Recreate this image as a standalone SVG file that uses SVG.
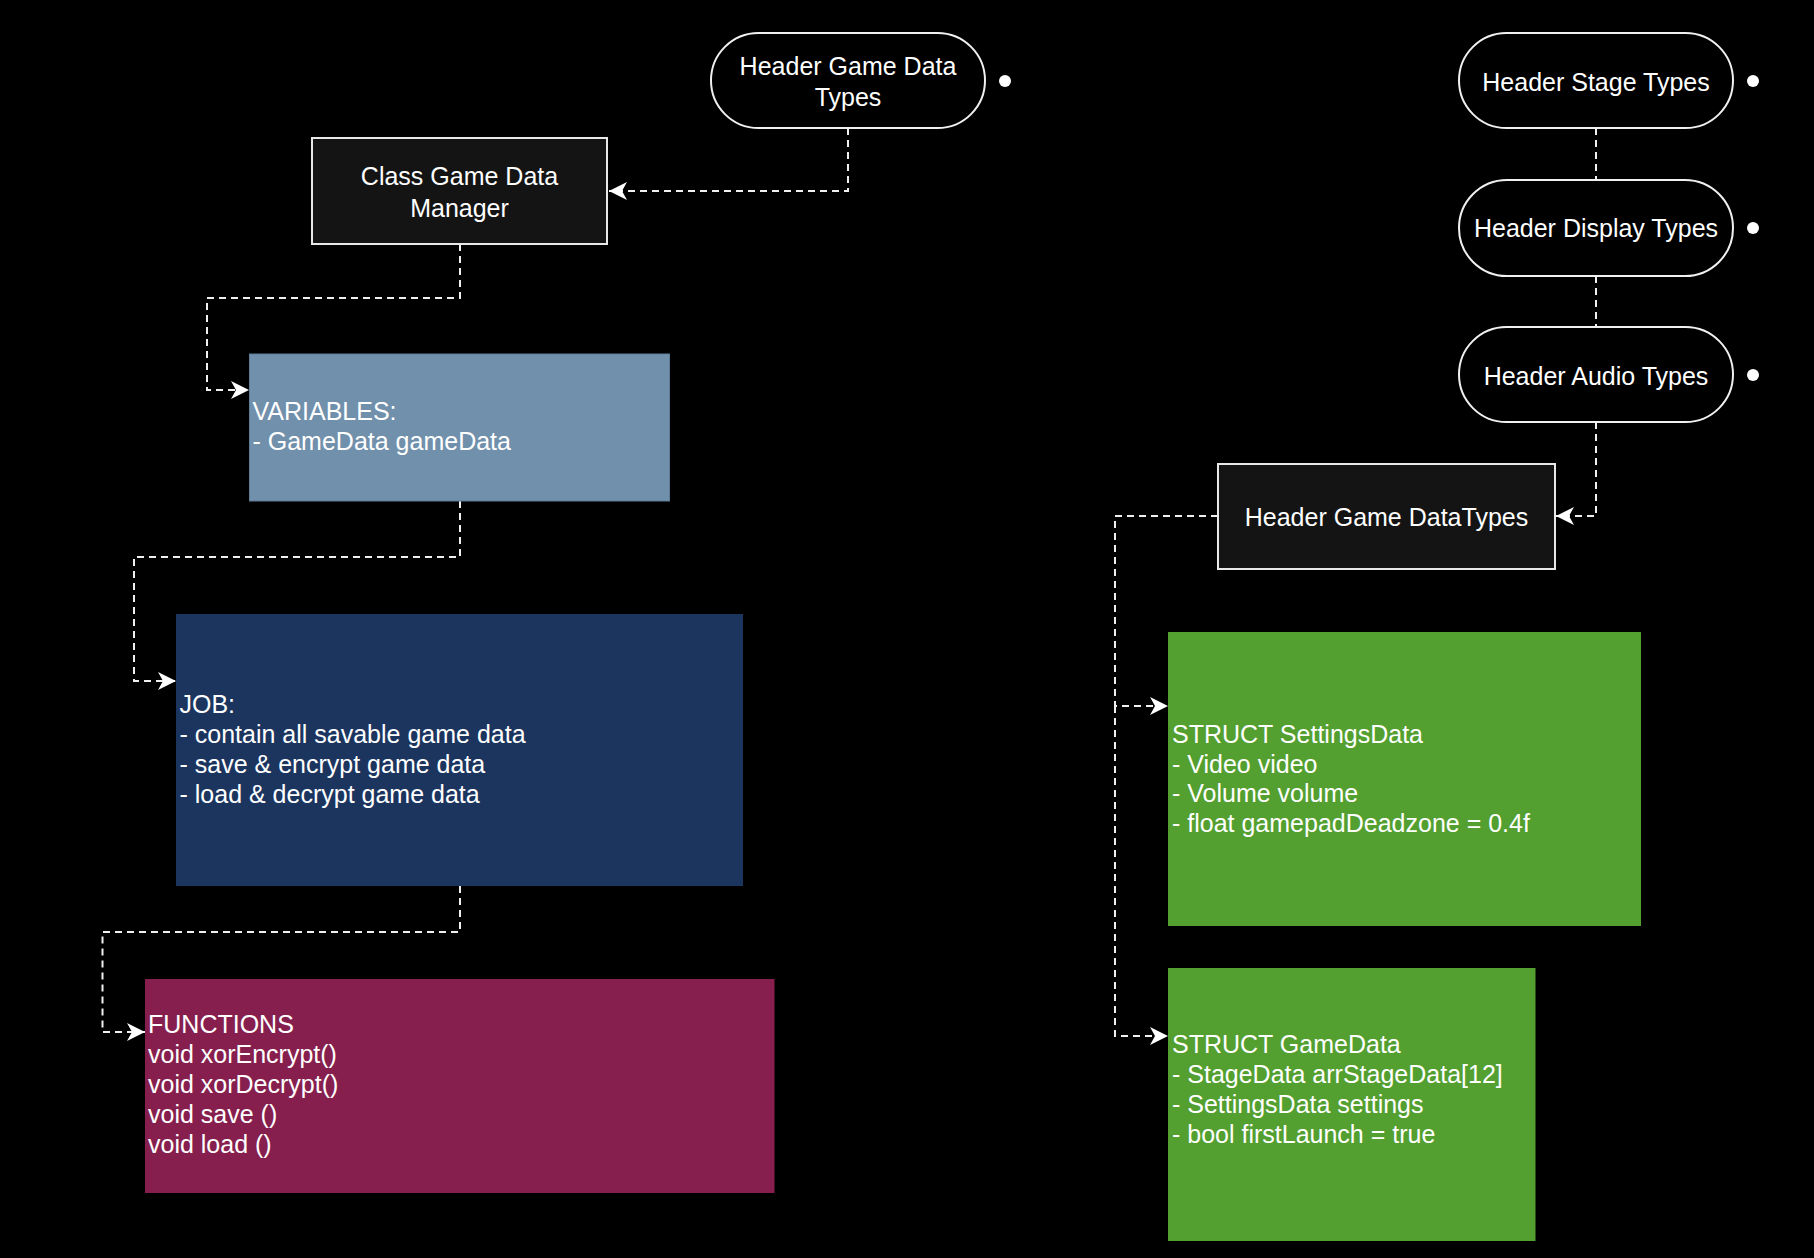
<svg xmlns="http://www.w3.org/2000/svg" width="1814" height="1258" viewBox="0 0 1814 1258">
<style>
text{font-family:"Liberation Sans",Arial,sans-serif;font-size:25px;fill:#ffffff}
.c{text-anchor:middle}
.pill{fill:#000000;stroke:#f0f0f0;stroke-width:2}
.hdr{fill:#141414;stroke:#e8e8e8;stroke-width:2}
.dot{fill:#ffffff}
.edge{fill:none;stroke:#f0f0f0;stroke-width:2;stroke-dasharray:7 5}
</style>
<defs>
<marker id="arr" markerUnits="userSpaceOnUse" markerWidth="20" markerHeight="20" refX="18" refY="9" orient="auto" overflow="visible">
<path d="M18,9 L0,0 L5,9 L0,18 Z" fill="#ffffff"/>
</marker>
</defs>
<rect x="0" y="0" width="1814" height="1258" fill="#000000"/>

<g id="connectors">
<path class="edge" d="M848,128 V191 H609" marker-end="url(#arr)"/>
<path class="edge" d="M460,244 V298 H207 V390 H249" marker-end="url(#arr)"/>
<path class="edge" d="M460,501 V557 H134 V681 H176" marker-end="url(#arr)"/>
<path class="edge" d="M460,886 V932 H102.5 V1032 H145" marker-end="url(#arr)"/>
<path class="edge" d="M1596,128 V180"/>
<path class="edge" d="M1596,276 V327"/>
<path class="edge" d="M1596,422 V516 H1556" marker-end="url(#arr)"/>
<path class="edge" d="M1218,516 H1115 V706 H1168" marker-end="url(#arr)"/>
<path class="edge" d="M1115,706 V1036 H1168" marker-end="url(#arr)"/>
</g>

<g id="pill-game-data-types">
<rect class="pill" x="711" y="33" width="274" height="95" rx="47.5" ry="47.5"/>
<text class="c" x="848" y="74.5">Header Game Data</text>
<text class="c" x="848" y="106">Types</text>
<circle class="dot" cx="1005" cy="81" r="6"/>
</g>

<g id="class-game-data-manager">
<rect class="hdr" x="312" y="138" width="295" height="106"/>
<text class="c" x="459.5" y="184.5">Class Game Data</text>
<text class="c" x="459.5" y="216.5">Manager</text>
</g>

<g id="variables">
<rect x="249.5" y="354" width="420" height="147" fill="#7090ab" stroke="#5d7c98" stroke-width="1"/>
<text x="252.5" y="420">VARIABLES:</text>
<text x="252.5" y="450">- GameData gameData</text>
</g>

<g id="job">
<rect x="176" y="614" width="567" height="272" fill="#1b355f"/>
<text x="179.5" y="713">JOB:</text>
<text x="179.5" y="743">- contain all savable game data</text>
<text x="179.5" y="773">- save &amp; encrypt game data</text>
<text x="179.5" y="803">- load &amp; decrypt game data</text>
</g>

<g id="functions">
<rect x="145" y="979" width="629.5" height="214" fill="#861f4e"/>
<text x="148" y="1033">FUNCTIONS</text>
<text x="148" y="1063">void xorEncrypt()</text>
<text x="148" y="1093">void xorDecrypt()</text>
<text x="148" y="1123">void save ()</text>
<text x="148" y="1153">void load ()</text>
</g>

<g id="pill-stage-types">
<rect class="pill" x="1459" y="33" width="274" height="95" rx="47.5" ry="47.5"/>
<text class="c" x="1596" y="91">Header Stage Types</text>
<circle class="dot" cx="1753" cy="81" r="6"/>
</g>

<g id="pill-display-types">
<rect class="pill" x="1459" y="180" width="274" height="96" rx="48" ry="48"/>
<text class="c" x="1596" y="237">Header Display Types</text>
<circle class="dot" cx="1753" cy="228" r="6"/>
</g>

<g id="pill-audio-types">
<rect class="pill" x="1459" y="327" width="274" height="95" rx="47.5" ry="47.5"/>
<text class="c" x="1596" y="385">Header Audio Types</text>
<circle class="dot" cx="1753" cy="375" r="6"/>
</g>

<g id="header-game-datatypes">
<rect class="hdr" x="1218" y="464" width="337" height="105"/>
<text class="c" x="1386.5" y="526">Header Game DataTypes</text>
</g>

<g id="struct-settingsdata">
<rect x="1168" y="632" width="473" height="294" fill="#539f30"/>
<text x="1172" y="743">STRUCT SettingsData</text>
<text x="1172" y="772.5">- Video video</text>
<text x="1172" y="802">- Volume volume</text>
<text x="1172" y="832">- float gamepadDeadzone = 0.4f</text>
</g>

<g id="struct-gamedata">
<rect x="1168" y="968" width="367.5" height="273" fill="#539f30"/>
<text x="1172" y="1053">STRUCT GameData</text>
<text x="1172" y="1083">- StageData arrStageData[12]</text>
<text x="1172" y="1113">- SettingsData settings</text>
<text x="1172" y="1143">- bool firstLaunch = true</text>
</g>
</svg>
